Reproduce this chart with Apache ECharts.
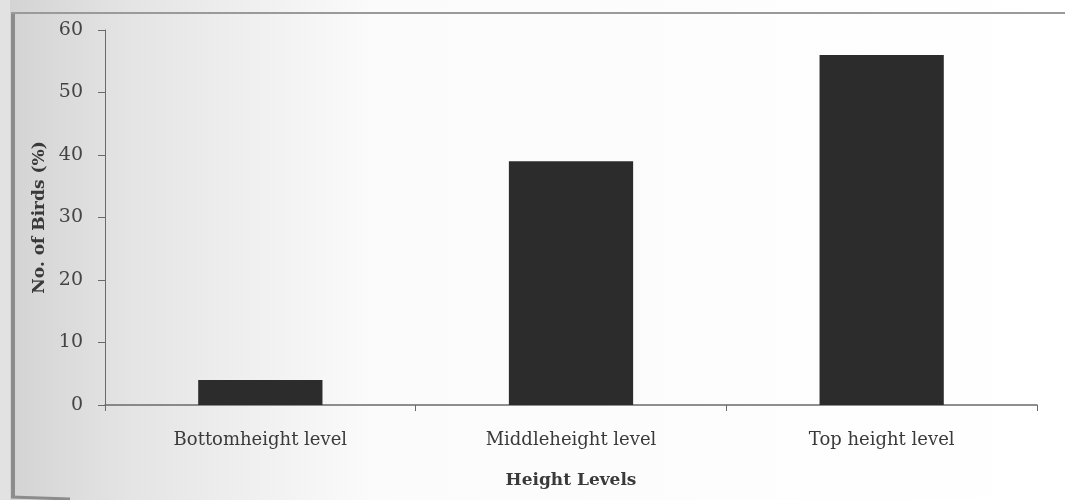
<!DOCTYPE html>
<html>
<head>
<meta charset="utf-8">
<script src="https://cdn.jsdelivr.net/npm/echarts@6/dist/echarts.min.js"></script>
<style>
  html, body { margin: 0; padding: 0; background: #fff; }
  #chart { width: 1065px; height: 500px; }
</style>
</head>
<body>
<div id="chart"></div>
<script>
// Share of birds observed at each height level
const categories = ['Bottomheight level', 'Middleheight level', 'Top height level'];
const birdShare = [4, 39, 56];
const yTicks = { min: 0, max: 60, interval: 10 };

const serif = '"DejaVu Serif", "Liberation Serif", serif';
const chart = echarts.init(document.getElementById('chart'), null, { renderer: 'canvas' });

chart.setOption({
  backgroundColor: '#ffffff',
  animation: false,
  graphic: [
    {
      type: 'rect', z: -10, silent: true,
      shape: { x: 0, y: 0, width: 1065, height: 500 },
      style: {
        fill: new echarts.graphic.LinearGradient(0, 0, 1, 0, [
          { offset: 0, color: '#d2d2d2' },
          { offset: 0.12, color: '#e4e4e4' },
          { offset: 0.35, color: '#fbfbfb' },
          { offset: 1, color: '#ffffff' }
        ])
      }
    },
    {
      type: 'rect', z: -9, silent: true,
      shape: { x: 0, y: 0, width: 10, height: 500 },
      style: { fill: '#e2e2e2' }
    },
    {
      type: 'line', z: 5, silent: true,
      shape: { x1: 13, y1: 12, x2: 13, y2: 498 },
      style: { stroke: '#8c8c8c', lineWidth: 4 }
    },
    {
      type: 'line', z: 5, silent: true,
      shape: { x1: 11, y1: 13, x2: 1065, y2: 13 },
      style: { stroke: '#9a9a9a', lineWidth: 2 }
    },
    {
      type: 'line', z: 5, silent: true,
      shape: { x1: 11, y1: 497, x2: 70, y2: 499 },
      style: { stroke: '#8c8c8c', lineWidth: 3 }
    }
  ],
  grid: { left: 105, right: 28, top: 30, bottom: 95, containLabel: false },
  xAxis: {
    type: 'category',
    data: categories,
    name: 'Height Levels',
    nameLocation: 'middle',
    nameGap: 67,
    nameTextStyle: { fontFamily: serif, fontWeight: 'bold', fontSize: 17, color: '#3a3a3a' },
    axisLine: { show: true, lineStyle: { color: '#6a6a6a', width: 1.5 } },
    axisTick: { show: true, alignWithLabel: false, length: 6, inside: false, lineStyle: { color: '#6a6a6a' } },
    axisLabel: { fontFamily: serif, fontSize: 18, color: '#3a3a3a', margin: 26 },
    splitLine: { show: false }
  },
  yAxis: {
    type: 'value',
    min: yTicks.min,
    max: yTicks.max,
    interval: yTicks.interval,
    name: 'No. of Birds (%)',
    nameLocation: 'middle',
    nameGap: 55,
    nameRotate: 90,
    nameTextStyle: { fontFamily: serif, fontWeight: 'bold', fontSize: 17, color: '#3a3a3a' },
    axisLine: { show: true, lineStyle: { color: '#6a6a6a', width: 1 } },
    axisTick: { show: true, length: 7, lineStyle: { color: '#6a6a6a' } },
    axisLabel: { fontFamily: serif, fontSize: 19, color: '#444', margin: 22 },
    splitLine: { show: false }
  },
  series: [{
    type: 'bar',
    data: birdShare,
    barWidth: '40%',
    itemStyle: { color: '#2c2c2c' }
  }]
});
</script>
</body>
</html>
